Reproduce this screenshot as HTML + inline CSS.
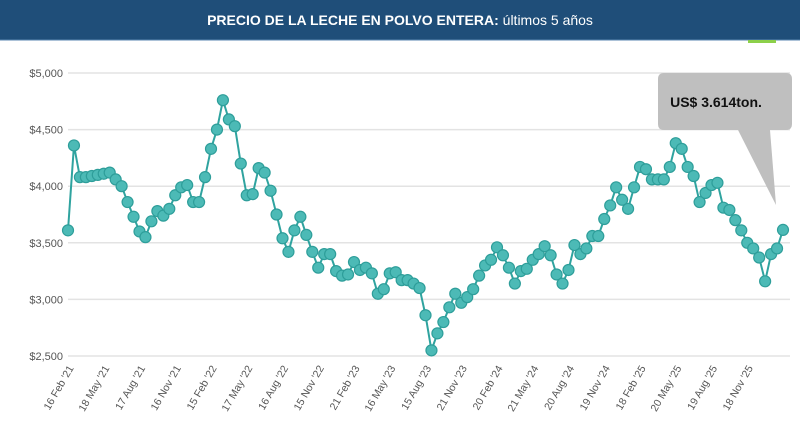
<!DOCTYPE html>
<html><head><meta charset="utf-8"><style>
html,body{margin:0;padding:0;background:#fff;width:800px;height:438px;overflow:hidden}
svg{display:block;font-family:"Liberation Sans",sans-serif}
</style></head><body>
<svg id="chart" width="800" height="438" viewBox="0 0 800 438">
<rect x="0" y="0" width="800" height="40" fill="#1f4e79"/>
<line x1="0" y1="40" x2="800" y2="40" stroke="#5a86b0" stroke-width="1"/>
<text x="400" y="25" text-anchor="middle" fill="#fff" font-size="14"><tspan font-weight="bold">PRECIO DE LA LECHE EN POLVO ENTERA:</tspan> últimos 5 años</text>
<rect x="748" y="40" width="28" height="3" fill="#8cd04a"/>
<g id="grid"></g><g id="xlabels"></g><g id="series"></g>
<g>
<path d="M664,73 H786 Q792,73 792,79 V124 Q792,130 786,130 H770 L776,205 L738,130 H664 Q658,130 658,124 V79 Q658,73 664,73 Z" fill="#bfbfbf"/>
<text x="716" y="107" text-anchor="middle" font-size="14" font-weight="bold" fill="#111">US$ 3.614ton.</text>
</g>
</svg>
<script>
const values = [3610,4360,4080,4080,4090,4100,4110,4120,4060,4000,3860,3730,3600,3550,3690,3780,3740,3800,3920,3990,4010,3860,3860,4080,4330,4500,4760,4590,4530,4200,3920,3930,4160,4120,3960,3750,3540,3420,3610,3730,3570,3420,3280,3400,3400,3250,3210,3220,3330,3260,3280,3230,3050,3090,3230,3240,3170,3170,3140,3100,2860,2550,2700,2800,2930,3050,2970,3020,3090,3210,3300,3350,3460,3390,3280,3140,3250,3270,3350,3400,3470,3390,3220,3140,3260,3480,3400,3450,3560,3560,3710,3830,3990,3880,3800,3990,4170,4150,4060,4060,4060,4170,4380,4330,4170,4090,3860,3940,4010,4030,3810,3790,3700,3610,3500,3450,3370,3160,3400,3450,3614];
const yTicks = [2500,3000,3500,4000,4500,5000];
const yTickLabels = ["$2,500","$3,000","$3,500","$4,000","$4,500","$5,000"];
const xLabels = ["16 Feb '21","18 May '21","17 Aug '21","16 Nov '21","15 Feb '22","17 May '22","16 Aug '22","15 Nov '22","21 Feb '23","16 May '23","15 Aug '23","21 Nov '23","20 Feb '24","21 May '24","20 Aug '24","19 Nov '24","18 Feb '25","20 May '25","19 Aug '25","18 Nov '25"];
const labelEvery = 6;
const NS="http://www.w3.org/2000/svg";
const x0=68,x1=783,yTop=73,yBot=356;
const xs=i=>x0+(x1-x0)*i/(values.length-1);
const ys=v=>yBot-(v-2500)/2500*(yBot-yTop);
const grid=document.getElementById('grid');
yTicks.forEach((t,k)=>{
 const l=document.createElementNS(NS,'line');
 
 
 l.setAttribute('x1',68);l.setAttribute('x2',790);l.setAttribute('y1',ys(t));l.setAttribute('y2',ys(t));
 l.setAttribute('stroke','#e3e3e3');l.setAttribute('stroke-width','1.5');grid.appendChild(l);
 const tx=document.createElementNS(NS,'text');
 
 
 tx.setAttribute('x',63);tx.setAttribute('y',ys(t)+4);tx.setAttribute('text-anchor','end');
 tx.setAttribute('font-size','11');tx.setAttribute('fill','#555');tx.textContent=yTickLabels[k];grid.appendChild(tx);
});
const xl=document.getElementById('xlabels');
xLabels.forEach((s,k)=>{
 const px=xs(k*labelEvery)+6,py=368;
 const tx=document.createElementNS(NS,'text');
 
 
 tx.setAttribute('x',px);tx.setAttribute('y',py);tx.setAttribute('text-anchor','end');
 tx.setAttribute('font-size','10.5');tx.setAttribute('fill','#555');
 tx.setAttribute('transform',`rotate(-60 ${px} ${py})`);tx.textContent=s;xl.appendChild(tx);
});
const g=document.getElementById('series');
const p=document.createElementNS(NS,'polyline');


p.setAttribute('points',values.map((v,i)=>xs(i)+','+ys(v)).join(' '));
p.setAttribute('fill','none');p.setAttribute('stroke','#2fa39f');p.setAttribute('stroke-width','2');g.appendChild(p);
values.forEach((v,i)=>{
 const c=document.createElementNS(NS,'circle');
 
 
 c.setAttribute('cx',xs(i));c.setAttribute('cy',ys(v));c.setAttribute('r','5.5');
 c.setAttribute('fill','#4cbab6');c.setAttribute('stroke','#2e9e9a');c.setAttribute('stroke-width','1.2');g.appendChild(c);
});
</script>
</body></html>
